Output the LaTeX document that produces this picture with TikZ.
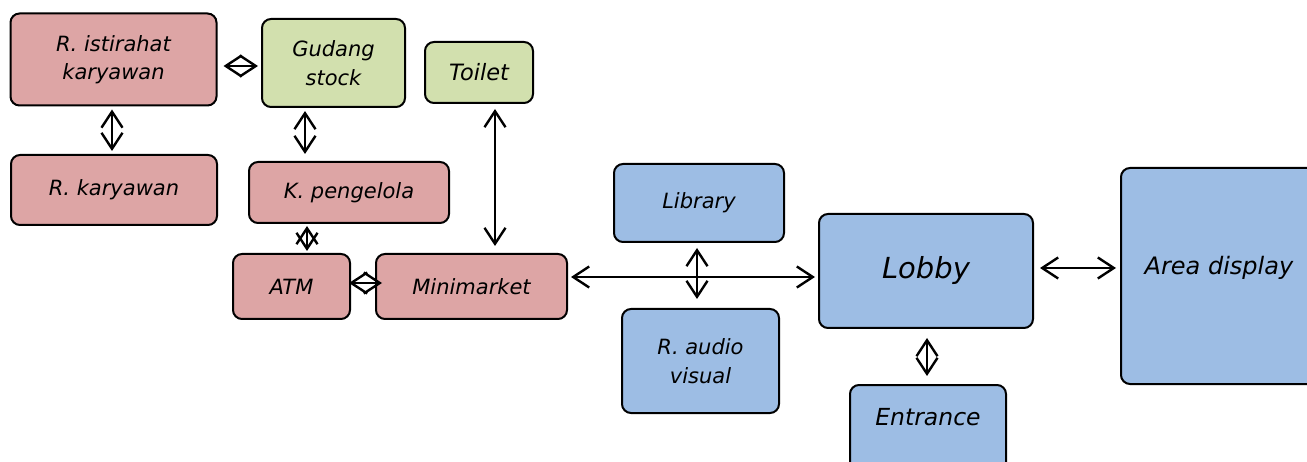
\documentclass[tikz,border=0pt]{standalone}
\usepackage{fontspec}
\setmainfont{DejaVu Sans}
\usetikzlibrary{arrows.meta}
\definecolor{roomred}{HTML}{DDA5A5}
\definecolor{roomgreen}{HTML}{D2E0AE}
\definecolor{roomblue}{HTML}{9DBDE4}
\tikzset{
  room/.style={draw=black, line width=2pt, rounded corners=9pt, inner sep=0pt,
    align=center, font=\fontsize{21}{28.5}\selectfont\itshape},
  redroom/.style={room, fill=roomred},
  greenroom/.style={room, fill=roomgreen},
  blueroom/.style={room, fill=roomblue},
  conn/.style={line width=2.4pt, {Straight Barb[length=16pt,width=21pt]}-{Straight Barb[length=16pt,width=21pt]}},
  roomlabel/.style={inner sep=0pt, align=center, font=\fontsize{21}{28.5}\selectfont\itshape}
}
\begin{document}
\begin{tikzpicture}[x=1pt, y=-1pt]
\useasboundingbox (0,0) rectangle (1307,462);
\fill[white] (0,0) rectangle (1307,462);

% staff and service rooms
\node[redroom, minimum width=206pt, minimum height=92pt] (istirahat) at (113.5,59.5) {R. istirahat\\karyawan};
\node[greenroom, minimum width=143pt, minimum height=88pt] (gudang) at (333.5,63) {Gudang\\stock};
\node[greenroom, minimum width=108pt, minimum height=61pt, font=\fontsize{22.5}{28}\selectfont\itshape] (toilet) at (479,72.5) {Toilet};
\node[redroom, minimum width=206pt, minimum height=70pt] (karyawan) at (114,190) {R. karyawan};
\node[redroom, minimum width=200pt, minimum height=61pt] (pengelola) at (349,192.5) {K. pengelola};
\node[redroom, minimum width=117pt, minimum height=65pt] (atm) at (291.5,286.5) {ATM};
\node[redroom, minimum width=191pt, minimum height=65pt] (minimarket) at (471.5,286.5) {Minimarket};

% public rooms
\node[blueroom, minimum width=170pt, minimum height=78pt] (library) at (699,203) {Library};
\node[blueroom, minimum width=157pt, minimum height=104pt] (audio) at (700.5,361) {R. audio\\visual};
\node[blueroom, minimum width=214pt, minimum height=114pt, font=\fontsize{29}{34}\selectfont\itshape] (lobby) at (926,271) {Lobby};
\node[blueroom, minimum width=196pt, minimum height=216pt] (display) at (1219,276) {};
\node[roomlabel, font=\fontsize{24}{30}\selectfont\itshape] (displaytext) at (1219,268) {Area display};
\node[blueroom, minimum width=156pt, minimum height=100pt] (entrance) at (928,435) {};
\node[roomlabel, font=\fontsize{23.5}{30}\selectfont\itshape] (entrancetext) at (928,417) {Entrance};

% helper columns and rows for off-centre connectors
\coordinate (gx) at (305,0);
\coordinate (px) at (307,0);
\coordinate (tx) at (495,0);
\coordinate (iy) at (0,66);
\coordinate (ay) at (0,283);
\coordinate (my) at (0,277);
\coordinate (dy) at (0,268);

% connectors
\draw[conn, shorten <=6pt, shorten >=3pt] (istirahat.east |- iy) -- (gudang.west |- iy);
\draw[conn, shorten <=3pt, shorten >=3pt] (istirahat.south -| karyawan.north) ++(-2,0) -- ([xshift=-2pt]karyawan.north);
\draw[conn, shorten <=3pt, shorten >=7pt] (gudang.south -| gx) -- (pengelola.north -| gx);
\draw[conn, shorten <=2pt, shorten >=2pt] (pengelola.south -| px) -- (atm.north -| px);
\draw[conn, shorten <=5pt, shorten >=7pt] (toilet.south -| tx) -- (minimarket.north -| tx);
\draw[conn, shorten <=-2pt, shorten >=-7pt] (atm.east |- ay) -- (minimarket.west |- ay);
\draw[conn, shorten <=3pt, shorten >=3pt] (minimarket.east |- my) -- (lobby.west |- my);
\draw[conn, shorten <=5pt, shorten >=9pt] ([xshift=-2pt]library.south) -- ([xshift=-3.5pt]audio.north);
\draw[conn, shorten <=6pt, shorten >=4pt] (lobby.east |- dy) -- (display.west |- dy);
\draw[conn, shorten <=9pt, shorten >=8pt] ([xshift=1pt]lobby.south) -- ([xshift=-1pt]entrance.north);
\end{tikzpicture}
\end{document}
